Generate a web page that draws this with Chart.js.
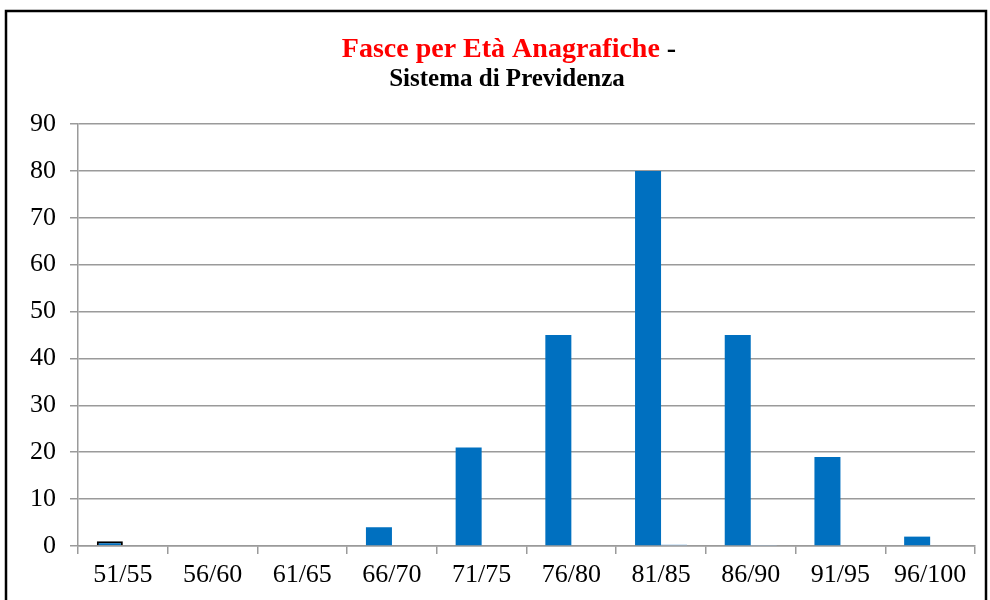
<!DOCTYPE html>
<html>
<head>
<meta charset="utf-8">
<script src="https://cdn.jsdelivr.net/npm/chart.js@4"></script>
<style>
  html, body { margin: 0; padding: 0; background: #fff; }
  #wrap { position: relative; width: 990px; height: 600px; }
</style>
</head>
<body>
<div id="wrap"><canvas id="chart" width="990" height="600"></canvas></div>
<script>
// Fasce per età - bar chart
const categories = ['51/55', '56/60', '61/65', '66/70', '71/75', '76/80', '81/85', '86/90', '91/95', '96/100'];
const mainValues = [1, 0, 0, 4, 21, 45, 80, 45, 19, 2];
const minorValues = [0, 0, 0, 0, 0, 0, 0.3, 0.1, 0, 0];
const yTicks = [0, 10, 20, 30, 40, 50, 60, 70, 80, 90];
const titleRed = 'Fasce per Età Anagrafiche';
const titleDash = ' -';
const titleLine2 = 'Sistema di Previdenza';

const serif = '"Liberation Serif", "DejaVu Serif", serif';
const gridGray = '#9a9a9a';

// frame + two-colour title drawn on the canvas
const frameAndTitle = {
  id: 'frameAndTitle',
  afterDraw(chart) {
    const ctx = chart.ctx;
    ctx.save();
    ctx.strokeStyle = '#000';
    ctx.lineWidth = 2.5;
    ctx.strokeRect(6, 11, 980, 620);

    const cx = 509;
    ctx.textBaseline = 'alphabetic';
    ctx.font = 'bold 28px ' + serif;
    const wRed = ctx.measureText(titleRed).width;
    const wDash = ctx.measureText(titleDash).width;
    let x = cx - (wRed + wDash) / 2;
    ctx.textAlign = 'left';
    ctx.fillStyle = '#ff0000';
    ctx.fillText(titleRed, x, 57);
    ctx.fillStyle = '#000';
    ctx.fillText(titleDash, x + wRed, 57);

    ctx.font = 'bold 25px ' + serif;
    ctx.textAlign = 'center';
    ctx.fillText(titleLine2, 507, 86);
    ctx.restore();
  }
};

new Chart(document.getElementById('chart'), {
  type: 'bar',
  data: {
    labels: categories,
    datasets: [
      {
        label: 'Iscritti',
        data: mainValues,
        backgroundColor: '#0070c0',
        borderColor: mainValues.map((v, i) => i === 0 ? '#000' : '#0070c0'),
        borderWidth: mainValues.map((v, i) => i === 0 ? 2 : 0),
        categoryPercentage: 0.58,
        barPercentage: 1
      },
      {
        label: 'Altri',
        data: minorValues,
        backgroundColor: '#9dc3e6',
        borderWidth: 0,
        categoryPercentage: 0.58,
        barPercentage: 1
      }
    ]
  },
  options: {
    responsive: false,
    animation: false,
    layout: { padding: { top: 124, right: 15, bottom: 0, left: 0 } },
    plugins: {
      legend: { display: false },
      title: { display: false },
      tooltip: { enabled: false }
    },
    scales: {
      x: {
        grid: { color: gridGray, lineWidth: 1.5, drawOnChartArea: false, tickLength: 8, offset: true },
        border: { color: gridGray, width: 1.5 },
        ticks: { color: '#000', font: { family: serif, size: 26 }, padding: 6, maxRotation: 0 },
        afterFit: (s) => { s.height = 54; }
      },
      y: {
        min: 0,
        max: 90,
        afterBuildTicks: (s) => { s.ticks = yTicks.map(v => ({ value: v })); },
        grid: { color: gridGray, lineWidth: 1.5, tickLength: 8 },
        border: { color: gridGray, width: 1.5 },
        ticks: { color: '#000', font: { family: serif, size: 26 }, padding: 14 },
        afterFit: (s) => { s.width = 78; }
      }
    }
  },
  plugins: [frameAndTitle]
});
</script>
</body>
</html>
